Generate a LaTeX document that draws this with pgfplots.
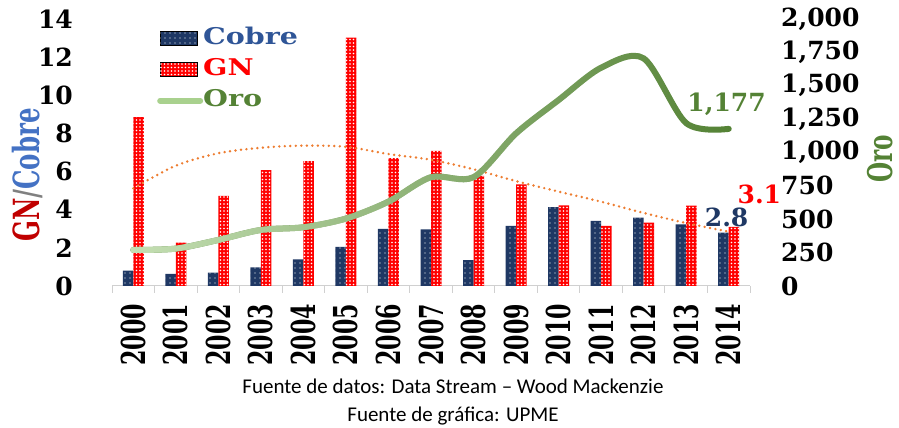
\documentclass[border=0pt]{standalone}
\usepackage{pgfplots}
\pgfplotsset{compat=1.18}
\usepackage{pgfplotstable}
\usepackage{graphicx}
\usepackage{fontspec}
\setmainfont{DejaVu Serif}
\newfontfamily\calfont{Carlito}
\usetikzlibrary{patterns.meta,fadings}

\definecolor{cobre}{HTML}{1F3864}
\definecolor{gn}{HTML}{FF0000}
\definecolor{cobretext}{HTML}{2F5597}
\definecolor{orodark}{HTML}{548235}
\definecolor{orolight}{HTML}{C5E0B4}
\definecolor{oromid}{HTML}{A9D18E}
\definecolor{trend}{HTML}{ED7D31}
\definecolor{gnlab}{HTML}{C00000}
\definecolor{cobrelab}{HTML}{4472C4}
\definecolor{axisgray}{HTML}{D0D0D0}

\newcommand\yr[1]{\scalebox{0.67}[1]{#1}}
\newcommand\lgd[2]{\textcolor{#1}{\scalebox{1.24}[1]{#2}}}

\tikzfading[name=orofade, left color=transparent!0, middle color=transparent!35, right color=transparent!100]

\pgfplotsset{
  barleg/.style={legend image code/.code={\draw[##1] (0pt,-7pt) rectangle (37pt,7pt);}},
  lineleg/.style={legend image code/.code={\draw[##1] (0pt,0pt) -- (40pt,0pt);}},
}

\pgfplotstableread{
x Cobre GN Oro Trend
0 0.80 8.85 270 5.12
1 0.63 2.27 280 6.31
2 0.70 4.72 345 6.96
3 0.98 6.08 420 7.25
4 1.40 6.55 440 7.36
5 2.05 13.02 505 7.30
6 2.99 6.71 632 6.92
7 2.97 7.08 815 6.62
8 1.36 5.78 815 6.12
9 3.15 5.33 1143 5.50
10 4.13 4.23 1393 4.95
11 3.41 3.15 1635 4.42
12 3.58 3.32 1705 3.83
13 3.23 4.21 1220 3.30
14 2.80 3.10 1177 2.85
}\datatable

\begin{document}
\begin{tikzpicture}
\begin{axis}[
  at={(112pt,142pt)}, anchor=south west,
  scale only axis, width=638pt, height=267pt,
  xmin=-0.5, xmax=14.5, ymin=0, ymax=14,
  axis x line*=bottom, axis y line*=left,
  y axis line style={draw=none},
  x axis line style={draw=axisgray, line width=1pt, -},
  ytick={0,2,...,14},
  ytick style={draw=none},
  /pgf/number format/assume math mode=true,
  yticklabel style={font=\bfseries\fontsize{25}{25}\selectfont, inner sep=0pt},
  yticklabel shift=32pt,
  xtick={-0.5,0.5,...,14.5},
  xticklabels={},
  xtick style={draw=axisgray, line width=1pt},
  tick align=outside,
  major tick length=7pt,
  extra x ticks={0,1,...,14},
  extra x tick labels={\yr{2000},\yr{2001},\yr{2002},\yr{2003},\yr{2004},\yr{2005},\yr{2006},\yr{2007},\yr{2008},\yr{2009},\yr{2010},\yr{2011},\yr{2012},\yr{2013},\yr{2014}},
  extra x tick style={major tick length=0pt, xticklabel style={rotate=90, anchor=east, inner sep=0pt, font=\bfseries\fontsize{33}{33}\selectfont}},
  xticklabel shift=18pt,
  every axis y label/.style={at={(rel axis cs:-0.1332,0.4157)}, rotate=90, anchor=center},
  ylabel={\bfseries\fontsize{36}{36}\selectfont\scalebox{0.68}[1]{\textcolor{gnlab}{GN}\textcolor{gray}{/}\textcolor{cobrelab}{Cobre}}},
  legend style={at={(rel axis cs:0.0705,0.974)}, anchor=north west, draw=none, fill=none,
     font=\bfseries\fontsize{23}{23}\selectfont, row sep=7.3pt, inner sep=0pt,
     nodes={inner sep=0pt, text height=18pt, text depth=6pt}},
  legend cell align=left,
  clip=false,
]
\addplot[ybar, bar width=10.5pt, bar shift=-5.25pt, draw=none, fill=cobre,
  postaction={pattern={Dots[distance=5pt,radius=0.7pt]}, pattern color=white}, barleg]
  table[x=x,y=Cobre]{\datatable};
\addlegendentry{\lgd{cobretext}{Cobre}}
\addplot[ybar, bar width=10.5pt, bar shift=5.25pt, draw=none, fill=gn,
  postaction={pattern={Dots[distance=3.5pt,radius=0.8pt]}, pattern color=white}, barleg]
  table[x=x,y=GN]{\datatable};
\addlegendentry{\lgd{gn}{GN}}
\addlegendimage{line width=6pt, color=oromid, line cap=round, lineleg}
\addlegendentry{\lgd{orodark}{Oro}}
\addplot[smooth, color=trend, line width=2.7pt, dash pattern=on 0pt off 5.5pt, line cap=round, forget plot]
  table[x=x,y=Trend]{\datatable};
\node[font=\bfseries\fontsize{25}{25}\selectfont, text=cobre] at (axis cs:13.95,3.59) {2.8};
\node[font=\bfseries\fontsize{25}{25}\selectfont, text=gn] at (axis cs:14.72,4.82) {3.1};
\end{axis}
\begin{axis}[
  at={(112pt,142pt)}, anchor=south west,
  scale only axis, width=638pt, height=267pt,
  xmin=-0.5, xmax=14.5, ymin=0, ymax=2000,
  axis x line=none, axis y line*=right,
  y axis line style={draw=none},
  ytick={0,250,...,2000},
  ytick style={draw=none},
  /pgf/number format/assume math mode=true,
  /pgf/number format/1000 sep={,},
  yticklabel style={font=\bfseries\fontsize{25}{25}\selectfont, inner sep=0pt},
  yticklabel shift=31pt,
  every axis y label/.style={at={(rel axis cs:1.2040,0.4757)}, rotate=90, anchor=center, inner sep=0pt},
  ylabel={\bfseries\fontsize{34}{34}\selectfont\scalebox{0.68}[1]{\textcolor{orodark}{Oro}}},
  clip=false,
]
\addplot[smooth, color=orodark, line width=6pt, line cap=round] table[x=x,y=Oro]{\datatable};
\addplot[smooth, color=orolight, line width=6pt, line cap=round, path fading=orofade] table[x=x,y=Oro]{\datatable};
\node[font=\bfseries\fontsize{25}{25}\selectfont, text=orodark] at (axis cs:13.95,1363) {1,177};
\end{axis}
\node[font=\calfont\fontsize{21}{21}\selectfont, anchor=base] at (453pt,34pt) {Fuente de datos: Data Stream – Wood Mackenzie};
\node[font=\calfont\fontsize{21}{21}\selectfont, anchor=base] at (453pt,6.5pt) {Fuente de gráfica: UPME};
\pgfresetboundingbox
\useasboundingbox (0,0) rectangle (899pt,428pt);
\end{tikzpicture}
\end{document}
